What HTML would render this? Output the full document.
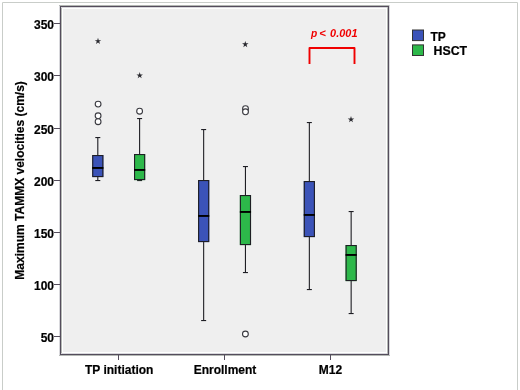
<!DOCTYPE html>
<html><head><meta charset="utf-8"><style>
html,body{margin:0;padding:0;background:#fff;}
body{width:520px;height:390px;overflow:hidden;}
svg{display:block;will-change:transform;}
.t{font-family:"Liberation Sans",sans-serif;font-weight:bold;font-size:12px;fill:#000;stroke:#000;stroke-width:0.2px;}
.p{font-family:"Liberation Sans",sans-serif;font-weight:bold;font-style:italic;font-size:10.2px;fill:#f00000;}
</style></head><body>
<svg width="520" height="390" viewBox="0 0 520 390">
<path d="M2.5 390 V2.5 H517.5 V390" fill="none" stroke="#c9cdc9" stroke-width="1"/>
<rect x="61" y="7" width="327" height="347" fill="#ffffff"/>
<rect x="63" y="9" width="323" height="343" fill="#efefef"/>
<rect x="59" y="5" width="1" height="351" fill="#d8d8dc"/>
<rect x="59" y="5" width="331" height="1" fill="#b4b8b4"/>
<rect x="61" y="7" width="1" height="347" fill="#b4b8b4"/>
<rect x="61" y="7" width="326" height="1" fill="#d8d8dc"/>
<rect x="387" y="7" width="1" height="347" fill="#b4b8b4"/>
<rect x="61" y="353" width="326" height="1" fill="#d8d8dc"/>
<rect x="389" y="5" width="1" height="351" fill="#d8d8dc"/>
<rect x="59" y="355" width="331" height="1" fill="#b4b8b4"/>
<rect x="60" y="6" width="1" height="349" fill="#544d5c"/>
<rect x="60" y="6" width="329" height="1" fill="#544d5c"/>
<rect x="388" y="6" width="1" height="349" fill="#544d5c"/>
<rect x="60" y="354" width="329" height="1" fill="#544d5c"/>
<rect x="54" y="336" width="6" height="1" fill="#544d5c"/>
<text x="54" y="342.2" text-anchor="end" class="t">50</text>
<rect x="54" y="284" width="6" height="1" fill="#544d5c"/>
<text x="54" y="290.0" text-anchor="end" class="t">100</text>
<rect x="54" y="232" width="6" height="1" fill="#544d5c"/>
<text x="54" y="237.9" text-anchor="end" class="t">150</text>
<rect x="54" y="180" width="6" height="1" fill="#544d5c"/>
<text x="54" y="185.7" text-anchor="end" class="t">200</text>
<rect x="54" y="128" width="6" height="1" fill="#544d5c"/>
<text x="54" y="133.5" text-anchor="end" class="t">250</text>
<rect x="54" y="75" width="6" height="1" fill="#544d5c"/>
<text x="54" y="81.4" text-anchor="end" class="t">300</text>
<rect x="54" y="23" width="6" height="1" fill="#544d5c"/>
<text x="54" y="29.2" text-anchor="end" class="t">350</text>
<rect x="118" y="355" width="1" height="5" fill="#544d5c"/>
<text x="119.2" y="373.5" text-anchor="middle" class="t">TP initiation</text>
<rect x="224" y="355" width="1" height="5" fill="#544d5c"/>
<text x="225.0" y="373.5" text-anchor="middle" class="t">Enrollment</text>
<rect x="330" y="355" width="1" height="5" fill="#544d5c"/>
<text x="330.4" y="373.5" text-anchor="middle" class="t">M12</text>
<text transform="translate(23.6,180.4) rotate(-90)" text-anchor="middle" class="t">Maximum TAMMX velocities (cm/s)</text>
<rect x="97.25" y="137" width="1.1" height="18" fill="#1e1e24"/>
<rect x="97.25" y="176" width="1.1" height="4" fill="#1e1e24"/>
<rect x="95.30" y="137" width="5.0" height="1.1" fill="#1e1e24"/>
<rect x="95.30" y="180" width="5.0" height="1.1" fill="#1e1e24"/>
<rect x="92.20" y="155" width="11.2" height="22.1" fill="#3b53b8"/>
<rect x="92.75" y="155.55" width="10.10" height="21.00" fill="none" stroke="#1e1e24" stroke-width="1.1"/>
<rect x="92.20" y="167" width="11.2" height="1.9" fill="#000"/>
<rect x="139.05" y="118" width="1.1" height="36" fill="#1e1e24"/>
<rect x="139.05" y="179" width="1.1" height="1" fill="#1e1e24"/>
<rect x="137.10" y="118" width="5.0" height="1.1" fill="#1e1e24"/>
<rect x="137.10" y="180" width="5.0" height="1.1" fill="#1e1e24"/>
<rect x="134.00" y="154" width="11.2" height="26.1" fill="#2db84a"/>
<rect x="134.55" y="154.55" width="10.10" height="25.00" fill="none" stroke="#1e1e24" stroke-width="1.1"/>
<rect x="134.00" y="169" width="11.2" height="1.9" fill="#000"/>
<rect x="203.10" y="129" width="1.1" height="51" fill="#1e1e24"/>
<rect x="203.10" y="241" width="1.1" height="79" fill="#1e1e24"/>
<rect x="201.15" y="129" width="5.0" height="1.1" fill="#1e1e24"/>
<rect x="201.15" y="320" width="5.0" height="1.1" fill="#1e1e24"/>
<rect x="198.05" y="180" width="11.2" height="62.1" fill="#3b53b8"/>
<rect x="198.60" y="180.55" width="10.10" height="61.00" fill="none" stroke="#1e1e24" stroke-width="1.1"/>
<rect x="198.05" y="215" width="11.2" height="1.9" fill="#000"/>
<rect x="244.90" y="166" width="1.1" height="29" fill="#1e1e24"/>
<rect x="244.90" y="244" width="1.1" height="28" fill="#1e1e24"/>
<rect x="242.95" y="166" width="5.0" height="1.1" fill="#1e1e24"/>
<rect x="242.95" y="272" width="5.0" height="1.1" fill="#1e1e24"/>
<rect x="239.85" y="195" width="11.2" height="50.1" fill="#2db84a"/>
<rect x="240.40" y="195.55" width="10.10" height="49.00" fill="none" stroke="#1e1e24" stroke-width="1.1"/>
<rect x="239.85" y="211" width="11.2" height="1.9" fill="#000"/>
<rect x="308.80" y="122" width="1.1" height="59" fill="#1e1e24"/>
<rect x="308.80" y="236" width="1.1" height="53" fill="#1e1e24"/>
<rect x="306.85" y="122" width="5.0" height="1.1" fill="#1e1e24"/>
<rect x="306.85" y="289" width="5.0" height="1.1" fill="#1e1e24"/>
<rect x="303.75" y="181" width="11.2" height="56.1" fill="#3b53b8"/>
<rect x="304.30" y="181.55" width="10.10" height="55.00" fill="none" stroke="#1e1e24" stroke-width="1.1"/>
<rect x="303.75" y="214" width="11.2" height="1.9" fill="#000"/>
<rect x="350.60" y="211" width="1.1" height="34" fill="#1e1e24"/>
<rect x="350.60" y="280" width="1.1" height="33" fill="#1e1e24"/>
<rect x="348.65" y="211" width="5.0" height="1.1" fill="#1e1e24"/>
<rect x="348.65" y="313" width="5.0" height="1.1" fill="#1e1e24"/>
<rect x="345.55" y="245" width="11.2" height="36.1" fill="#2db84a"/>
<rect x="346.10" y="245.55" width="10.10" height="35.00" fill="none" stroke="#1e1e24" stroke-width="1.1"/>
<rect x="345.55" y="254" width="11.2" height="1.9" fill="#000"/>
<circle cx="98.1" cy="104.1" r="2.9" fill="#fff" stroke="#3a3a40" stroke-width="1.1"/>
<circle cx="98.1" cy="115.8" r="2.9" fill="#fff" stroke="#3a3a40" stroke-width="1.1"/>
<circle cx="98.1" cy="121.7" r="2.9" fill="#fff" stroke="#3a3a40" stroke-width="1.1"/>
<circle cx="139.6" cy="111.2" r="2.9" fill="#fff" stroke="#3a3a40" stroke-width="1.1"/>
<circle cx="245.5" cy="108.7" r="2.9" fill="#fff" stroke="#3a3a40" stroke-width="1.1"/>
<circle cx="245.5" cy="111.8" r="2.9" fill="#fff" stroke="#3a3a40" stroke-width="1.1"/>
<circle cx="245.4" cy="334.0" r="2.9" fill="#fff" stroke="#3a3a40" stroke-width="1.1"/>
<path d="M98.00,37.80 L98.76,40.15 L101.23,40.15 L99.24,41.60 L100.00,43.95 L98.00,42.50 L96.00,43.95 L96.76,41.60 L94.77,40.15 L97.24,40.15 Z" fill="#2a2a30"/>
<path d="M139.70,72.10 L140.46,74.45 L142.93,74.45 L140.94,75.90 L141.70,78.25 L139.70,76.80 L137.70,78.25 L138.46,75.90 L136.47,74.45 L138.94,74.45 Z" fill="#2a2a30"/>
<path d="M245.30,41.00 L246.06,43.35 L248.53,43.35 L246.54,44.80 L247.30,47.15 L245.30,45.70 L243.30,47.15 L244.06,44.80 L242.07,43.35 L244.54,43.35 Z" fill="#2a2a30"/>
<path d="M351.00,116.10 L351.76,118.45 L354.23,118.45 L352.24,119.90 L353.00,122.25 L351.00,120.80 L349.00,122.25 L349.76,119.90 L347.77,118.45 L350.24,118.45 Z" fill="#2a2a30"/>
<path d="M309.5 64 V48 H354.5 V64" fill="none" stroke="#f00000" stroke-width="1.9" stroke-linejoin="round"/>
<text x="311.0" y="36.7" class="p">p</text>
<text x="319.2" y="36.7" class="p" textLength="6.6" lengthAdjust="spacingAndGlyphs">&lt;</text>
<text x="330.1" y="36.7" class="p" textLength="27.4" lengthAdjust="spacingAndGlyphs">0.001</text>
<rect x="412.5" y="30" width="11" height="10.6" fill="#3b53b8" stroke="#333" stroke-width="1"/>
<rect x="412.5" y="44.9" width="11" height="10.6" fill="#2db84a" stroke="#333" stroke-width="1"/>
<text x="430.5" y="40.8" class="t">TP</text>
<text x="433.5" y="55.3" class="t" textLength="33.6" lengthAdjust="spacingAndGlyphs">HSCT</text>
</svg>
</body></html>
